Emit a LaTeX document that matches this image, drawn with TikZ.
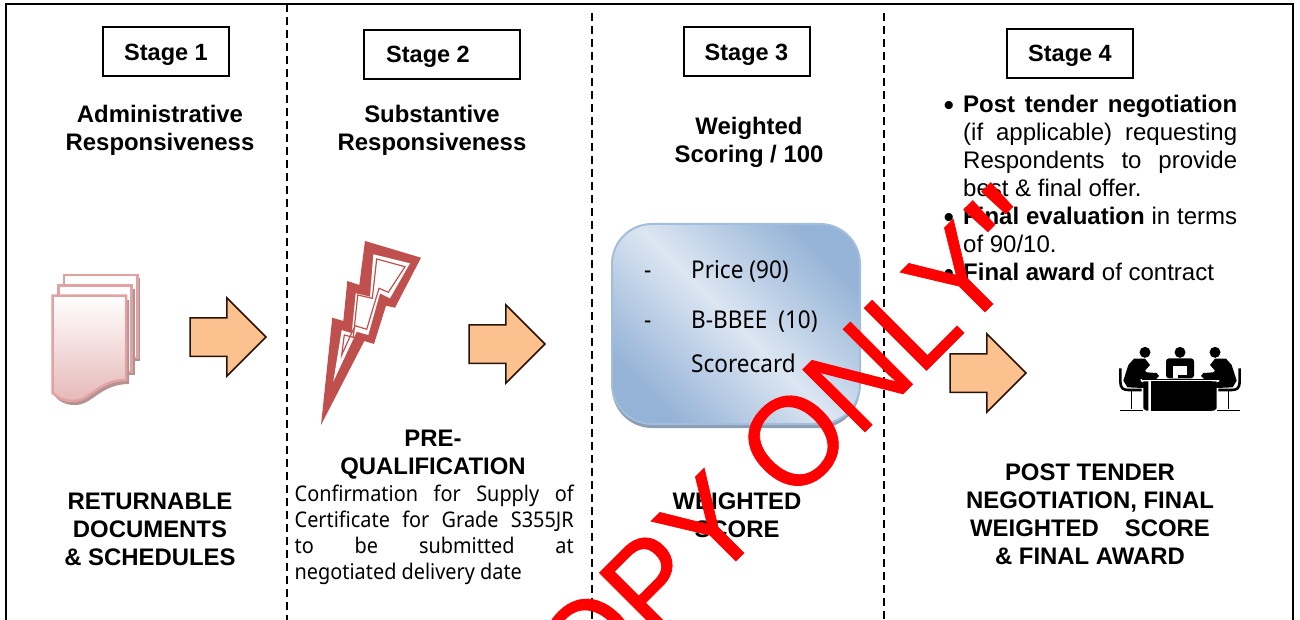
\documentclass[tikz,border=0pt]{standalone}
\usepackage{fontspec}
\setmainfont{Liberation Sans}
\newfontfamily\boxfont[FakeStretch=0.92]{Noto Sans}
\newfontfamily\stampfont[FakeBold=0.6]{Liberation Sans}
\usetikzlibrary{shapes.arrows}
\definecolor{arrowfill}{HTML}{FBC18F}
\definecolor{arrowline}{HTML}{2B1208}
\definecolor{docline}{HTML}{E0A2A2}
\definecolor{docshadow}{HTML}{B59292}
\definecolor{docfill}{HTML}{E6B8B7}
\definecolor{boltred}{HTML}{C0504D}
\definecolor{boxlight}{HTML}{DCE6F2}
\definecolor{boxblue}{HTML}{95B3D7}
\definecolor{boxline}{HTML}{A3BDDC}
\definecolor{boxshadow}{HTML}{8D9DB2}
\tikzset{
  stagebox/.style={draw,line width=2pt,minimum width=126pt,minimum height=49pt,inner sep=0pt,text height=16.5pt,text depth=0pt,font=\fontsize{23.5}{28}\selectfont\bfseries},
  headtext/.style={align=center,inner sep=0pt,font=\fontsize{23.9}{28}\selectfont\bfseries},
  bodytext/.style={inner sep=0pt,text width=274pt,align=justify,anchor=north west,font=\fontsize{24}{28}\selectfont},
  boxtext/.style={inner sep=0pt,anchor=base west,font=\fontsize{24.5}{28}\selectfont\boxfont},
  nextarrow/.style={single arrow,draw=arrowline,fill=arrowfill,line width=1.5pt,minimum width=77pt,minimum height=76pt,single arrow head extend=20pt,inner sep=18.5pt,outer sep=0pt,anchor=tip},
  divider/.style={line width=1.6pt,dash pattern=on 8pt off 5pt},
  docsheet/.style={draw=docline,line width=2.5pt},
}
\newcommand{\SidePerson}{%
  \fill[black] (105,37) circle (16.5);
  \fill[black] (72,56) -- (105,56) -- (120,75) -- (105,92) -- (110,97) -- (140,99) -- (147,108) -- (138,117) -- (92,117) -- (92,124) -- (100,128) -- (100,205) -- (108,212) -- (115,212) -- (115,124) -- (100,124) -- (100,144) -- (52,142) -- (40,122) -- (55,75) -- cycle;
  \draw[black,line width=2.6pt] (31,85) -- (31,125) .. controls (31,145) and (40,150) .. (55,150) -- (95,150);
  \draw[black,line width=1.6pt] (65,150) -- (65,208);
  \draw[black,line width=1.4pt] (30,211) -- (100,211);
}
\begin{document}
\begin{tikzpicture}[x=1pt,y=-1pt]
\useasboundingbox (0,0) rectangle (1300,620);
\clip (0,0) rectangle (1300,620);
\fill[white] (0,0) rectangle (1300,620);
\draw[line width=2pt] (5.5,620) -- (5.5,4) -- (1293,4) -- (1293,620);
\coordinate (div1top) at (287,4);
\coordinate (div1end) at (287,620);
\coordinate (div2top) at (592,13);
\coordinate (div2end) at (592,620);
\coordinate (div3top) at (884,13);
\coordinate (div3end) at (884,620);
\draw[divider] (div1top) -- (div1end);
\draw[divider] (div2top) -- (div2end);
\draw[divider] (div3top) -- (div3end);
\node[stagebox] (stage1) at (166,52) {Stage 1};
\node[stagebox,minimum width=156pt] (stage2) at (442,54.5) {Stage 2\hspace{28pt}\mbox{}};
\node[stagebox] (stage3) at (746.5,52) {Stage 3};
\node[stagebox] (stage4) at (1070,53.5) {Stage 4};
\node[headtext] (title1) at (160,130) {Administrative\\Responsiveness};
\node[headtext] (title2) at (432,130) {Substantive\\Responsiveness};
\node[headtext] (title3) at (749,142.5) {Weighted\\Scoring / 100};
\node[headtext] (result1) at (150,529.5) {RETURNABLE\\DOCUMENTS\\\& SCHEDULES};
\node[headtext] (result2) at (433,454.5) {PRE-\\QUALIFICATION};
\node[headtext] (result3) at (737,515.5) {WEIGHTED\\SCORE};
\node[headtext] (result4) at (1090,514) {POST TENDER\\NEGOTIATION, FINAL\\WEIGHTED\hspace{26pt}SCORE\\\& FINAL AWARD};
\node[bodytext,text width=279pt,font=\fontsize{21.6}{26}\selectfont\boxfont] (confirm) at (294.5,485) {Confirmation for Supply of\linebreak Certificate for Grade S355JR\linebreak to be submitted at\linebreak negotiated delivery date};
\newcommand{\listdot}{\llap{\raisebox{-2.5pt}{\fontsize{30}{28}\selectfont\textbullet}\hspace{9pt}}}
\node[bodytext] (steps) at (963,95) {\listdot\textbf{Post tender negotiation}\linebreak (if applicable) requesting\linebreak Respondents to provide\linebreak best \& final offer.\\\listdot\textbf{Final evaluation} in terms\linebreak of 90/10.\\\listdot\textbf{Final award} of contract};
\node[nextarrow] (arrow1) at (266,337) {};
\node[nextarrow] (arrow2) at (545,344) {};
\node[nextarrow] (arrow3) at (1026,373) {};
\fill[docshadow] (67,278) rectangle (140,361);
\draw[docsheet,fill=white] (64,275) rectangle (137.3,358);
\fill[docshadow] (61.5,289) rectangle (134.5,375);
\draw[docsheet,fill=white] (58.3,285.7) rectangle (131.7,372);
\fill[docshadow] (55.5,300) -- (129,300) -- (129,384) .. controls (100,384) and (92,406) .. (74,405) .. controls (66,405) and (60,402) .. (55.5,397) -- cycle;
\draw[docsheet,top color=white,bottom color=docfill] (52.7,295.7) -- (126,295.7) -- (126,380) .. controls (98,380) and (90,402) .. (72,401) .. controls (64,401) and (58,398) .. (52.7,393) -- cycle;
\fill[boltred] (365,241) -- (421,257.7) -- (395,307.7) -- (386,305.7) -- (374,344) -- (364.3,341) -- (321,425) -- (332.3,317.7) -- (343.3,321) -- (347.3,281) -- (359.3,285) -- cycle;
\fill[white] (373.3,254.3) -- (410,263.3) -- (390,298.3) -- (380,293.3) -- (368.3,335) -- (356.7,331.7) -- (333.3,381.7) -- (341.7,330) -- (351.7,333.3) -- (355.7,293.3) -- (370,296.7) -- cycle;
\draw[boltred,line width=1.2pt] (376.7,259) -- (405,266.7) -- (388.3,292.3) -- (379,288.3) -- (366.7,329.3) -- (355,325.7) -- (341.7,355) -- (344.3,335) -- (353.3,337.3) -- (357.7,295) -- (372.3,298.3) -- cycle;
\fill[boxshadow,rounded corners=40pt] (612,228) rectangle (860,428);
\draw[boxline,line width=2pt,rounded corners=40pt,top color=boxblue,bottom color=boxblue,middle color=boxlight,shading angle=-45] (612,224) rectangle (860,424);
\node[boxtext] (dash1) at (644,278) {-};
\node[boxtext] (price) at (691,278) {Price (90)};
\node[boxtext] (dash2) at (644,328) {-};
\node[boxtext] (bbbee) at (691,328) {B-BBEE\hspace{5pt} (10)};
\node[boxtext] (score) at (691,372) {Scorecard};
\begin{scope}[shift={(1110,340)},x=0.3333pt,y=-0.3333pt]
\SidePerson
\fill[black] (210,37) circle (16.5);
\fill[black,rounded corners=3pt] (168,115) -- (168,55) -- (252,55) -- (252,115) -- cycle;
\fill[white] (190,78) rectangle (230,105);
\fill[white] (190,105) rectangle (205,115);
\fill[white] (93,116) rectangle (332,124);
\fill[black] (95,118) rectangle (330,121.5);
\fill[black] (122,124) rectangle (305,212);
\end{scope}
\begin{scope}[shift={(1250,340)},xscale=-1,x=0.3333pt,y=-0.3333pt]
\SidePerson
\end{scope}
\node[rotate=45,inner sep=0pt,text=red,font=\fontsize{128}{128}\selectfont\stampfont] (stamp) at (766,479) {\scalebox{0.94}[1]{COPY ONLY\hspace{6pt}\raisebox{-16pt}{\fontsize{150}{128}\selectfont"}}};
\end{tikzpicture}
\end{document}
